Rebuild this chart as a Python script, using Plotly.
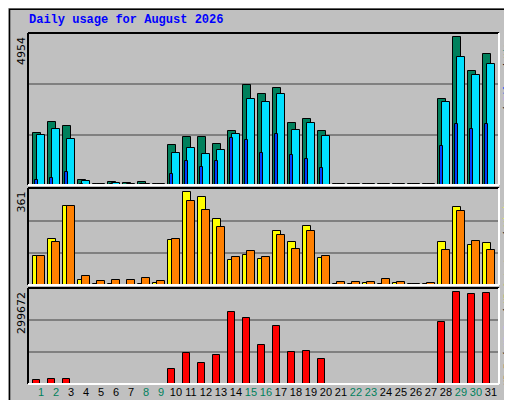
import plotly.graph_objects as go

days = list(range(1, 32))
hits = [1716, 2079, 1925, 176, 25, 110, 77, 88, 25, 1298, 1562, 1562, 1331, 1760, 3267, 2970,
        3168, 2046, 2178, 1782, 25, 25, 25, 25, 25, 25, 25, 2805, 4851, 3729, 4290]
pages = [1628, 1826, 1496, 143, 25, 66, 44, 44, 25, 1034, 1199, 1001, 1133, 1661, 2816, 2717,
         2970, 1815, 2046, 1617, 25, 25, 25, 25, 25, 25, 25, 2706, 4191, 3597, 3960]
files = [176, 242, 440, 20, 10, 30, 10, 40, 10, 374, 770, 605, 770, 1529, 1463, 1034,
         1661, 968, 836, 572, 10, 10, 10, 10, 10, 10, 10, 1265, 2013, 1848, 2013]
visits = [110, 173, 297, 20, 4, 4, 0, 4, 8, 169, 346, 331, 248, 94, 113, 98,
          203, 162, 222, 102, 4, 4, 8, 4, 8, 3, 3, 162, 293, 150, 158]
sites = [110, 162, 297, 34, 15, 19, 19, 26, 15, 173, 316, 282, 218, 105, 128, 105,
         188, 135, 203, 109, 11, 11, 11, 23, 11, 3, 8, 132, 275, 165, 132]
kbytes = [13666, 16800, 16800, 1500, 1500, 1500, 1500, 1500, 1500, 48350, 96700, 65160, 90400,
          224900, 206000, 120900, 180800, 101950, 105100, 79900, 1500, 1500, 1500, 1500, 1500,
          1500, 1500, 193400, 288000, 281700, 284800]
weekend = {1, 2, 8, 9, 15, 16, 22, 23, 29, 30}
max_hits, max_visits, max_kb = 4954, 361, 299672

fig = go.Figure()
line = dict(color="black", width=1)

def bar(y, color, off, w, ax):
    fig.add_trace(go.Bar(x=days, y=y, offset=off, width=w, marker=dict(color=color, line=line),
                         xaxis="x", yaxis=ax, showlegend=False))

bar(hits, "#00805C", -0.4, 0.53, "y")
bar(pages, "#00E0FF", -0.12, 0.51, "y")
bar(files, "#0040FF", -0.24, 0.16, "y")
bar(visits, "#FFFF00", -0.4, 0.53, "y2")
bar(sites, "#FF8000", -0.12, 0.51, "y2")
bar(kbytes, "#FF0000", -0.4, 0.49, "y3")

ticktext = [f'<span style="color:{"#00805C" if d in weekend else "black"}">{d}</span>' for d in days]
fig.update_layout(
    width=512, height=400, margin=dict(l=0, r=0, t=0, b=0),
    paper_bgcolor="#C0C0C0", plot_bgcolor="#C0C0C0", bargap=0, barmode="overlay",
    font=dict(family="DejaVu Sans", size=11, color="black"),
    xaxis=dict(domain=[20/512, 491/512], range=[0.267, 31.667], tickvals=[d + 0.13 for d in days],
               ticktext=ticktext, ticks="", showgrid=False, zeroline=False, tickangle=0,
               tickfont=dict(family="Liberation Sans", size=11), anchor="y3"),
)
for name, dom, mx in [("yaxis", [0.5575, 0.9375], max_hits), ("yaxis2", [0.3075, 0.55], max_visits),
                      ("yaxis3", [0.06, 0.30], max_kb)]:
    fig.layout[name] = dict(domain=dom, range=[0, mx * 1.005], tickvals=[mx / 3, 2 * mx / 3],
                            showticklabels=False, gridcolor="#808080", gridwidth=1.5, zeroline=False,
                            ticks="")

for y0, y1 in [(0.5575, 0.9375), (0.3075, 0.55), (0.06, 0.30)]:
    x0, x1 = 20/512, 491/512
    fig.add_shape(type="line", xref="paper", yref="paper", x0=x0, x1=x1, y0=y1, y1=y1, line=dict(color="black", width=2))
    fig.add_shape(type="line", xref="paper", yref="paper", x0=x0, x1=x0, y0=y0, y1=y1, line=dict(color="black", width=2))
    fig.add_shape(type="line", xref="paper", yref="paper", x0=x0, x1=x1, y0=y0, y1=y0, line=dict(color="white", width=2))
    fig.add_shape(type="line", xref="paper", yref="paper", x0=x1, x1=x1, y0=y0, y1=y1, line=dict(color="white", width=2))
fig.add_shape(type="rect", xref="paper", yref="paper", x0=0.003, x1=0.992, y0=0.004, y1=0.997,
              line=dict(color="black", width=1.5))
fig.add_shape(type="rect", xref="paper", yref="paper", x0=0.993, x1=1, y0=0, y1=0.99,
              line=dict(width=0), fillcolor="#808080")
fig.add_shape(type="rect", xref="paper", yref="paper", x0=0.01, x1=1, y0=0, y1=0.004,
              line=dict(width=0), fillcolor="#808080")

mono = "Liberation Mono"
fig.add_annotation(text="<b>Daily usage for August 2026</b>", xref="paper", yref="paper", x=19/512, y=1 - 12/400,
                   xanchor="left", yanchor="middle", showarrow=False, font=dict(family=mono, size=12, color="#0000FF"))
for lbl, ytop in [(str(max_hits), 27), (str(max_visits), 182), (str(max_kb), 282)]:
    fig.add_annotation(text=lbl, xref="paper", yref="paper", x=13/512, y=1 - ytop/400, textangle=-90,
                       xanchor="center", yanchor="top", showarrow=False, font=dict(size=11))

CH = 5.4
def legend(parts, ybot):
    pos = ybot
    for t, c in parts:
        n = len(t)
        mid = pos - n * CH / 2
        fig.add_annotation(text=t, xref="paper", yref="paper", x=500/512, y=1 - mid/400, textangle=-90,
                           xanchor="center", yanchor="middle", showarrow=False,
                           font=dict(family=mono, size=9, color=c))
        pos -= (n + 1) * CH

legend([("Pages", "#00E0FF"), ("/", "black"), ("Files", "#0040FF"), ("/", "black"), ("Hits", "#00805C")], 137)
legend([("Sites", "#FF8000"), ("/", "black"), ("Visits", "#FFFF00")], 262)
legend([("KB F", "#FF0000"), ("/", "black"), ("KB In", "#0080FF"), ("/", "black"), ("KB Out", "#00C000")], 377)

fig.write_html("out.html")
